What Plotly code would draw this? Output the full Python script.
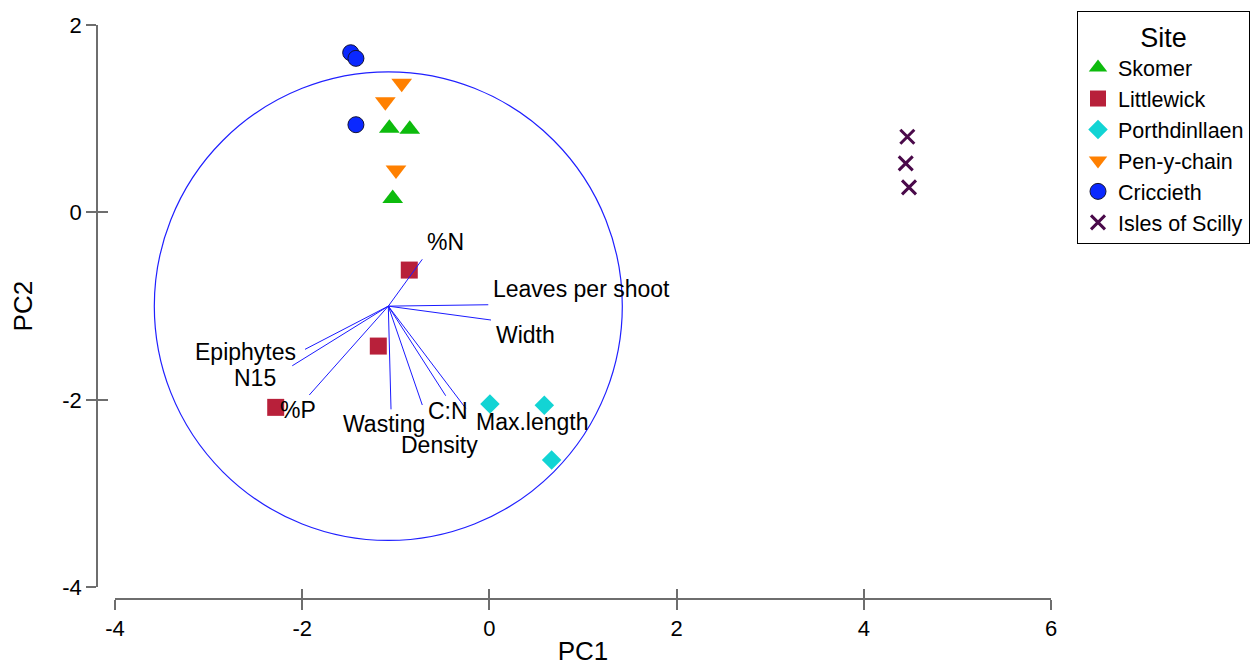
import plotly.graph_objects as go

# ---- Site scores (PC1, PC2) ----
skomer_pc1 = [-1.069, -0.851, -1.033]
skomer_pc2 = [0.897, 0.887, 0.150]

littlewick_pc1 = [-0.856, -1.187, -2.283]
littlewick_pc2 = [-0.615, -1.426, -2.080]

porthdinllaen_pc1 = [0.006, 0.587, 0.665]
porthdinllaen_pc2 = [-2.044, -2.058, -2.642]

penychain_pc1 = [-0.937, -1.112, -0.998]
penychain_pc2 = [1.378, 1.181, 0.452]

criccieth_pc1 = [-1.482, -1.426, -1.426]
criccieth_pc2 = [1.704, 1.644, 0.936]

scilly_pc1 = [4.465, 4.448, 4.483]
scilly_pc2 = [0.808, 0.524, 0.268]

# ---- Variable loadings (arrow tips) and the origin they start from ----
var_names = ["%N", "Leaves per shoot", "Width", "Epiphytes", "N15",
             "%P", "Wasting", "Density", "C:N", "Max.length"]
var_pc1 = [-0.717, -0.012, 0.017, -1.970, -2.106,
           -1.924, -1.051, -0.717, -0.467, -0.253]
var_pc2 = [-0.500, -0.985, -1.148, -1.461, -1.636,
           -1.948, -2.101, -2.055, -1.956, -2.090]
origin_pc1 = -1.08
origin_pc2 = -1.00
circle_radius = 2.5

# ---- Axis ticks ----
x_ticks = [-4, -2, 0, 2, 4, 6]
x_tick_text = ["-4", "-2", "0", "2", "4", "6"]
y_ticks = [-4, -2, 0, 2]
y_tick_text = ["-4", "-2", "0", "2"]

FONT = "Liberation Sans, Arial, sans-serif"
AXIS_GREY = "#6e6e6e"

fig = go.Figure()

site_styles = [
    ("Skomer", skomer_pc1, skomer_pc2,
     dict(symbol="triangle-up", size=18, color="#0dbb0d")),
    ("Littlewick", littlewick_pc1, littlewick_pc2,
     dict(symbol="square", size=17, color="#b8203a")),
    ("Porthdinllaen", porthdinllaen_pc1, porthdinllaen_pc2,
     dict(symbol="diamond", size=15, color="#12d4d4")),
    ("Pen-y-chain", penychain_pc1, penychain_pc2,
     dict(symbol="triangle-down", size=18, color="#ff8000")),
    ("Criccieth", criccieth_pc1, criccieth_pc2,
     dict(symbol="circle", size=16, color="#0a28ff",
          line=dict(color="#111133", width=1))),
    ("Isles of Scilly", scilly_pc1, scilly_pc2,
     dict(symbol="x-thin", size=14, color="#4a0a4a",
          line=dict(color="#4a0a4a", width=3))),
]
for name, xs, ys, marker in site_styles:
    fig.add_trace(go.Scatter(x=xs, y=ys, mode="markers", name=name,
                             marker=marker))

# loading arrows, on the overlaid axes so they sit above the site markers
seg_x, seg_y = [], []
for vx, vy in zip(var_pc1, var_pc2):
    seg_x += [origin_pc1, vx, None]
    seg_y += [origin_pc2, vy, None]
fig.add_trace(go.Scatter(x=seg_x, y=seg_y, mode="lines", xaxis="x2", yaxis="y2",
                         line=dict(color="#1a1aff", width=1),
                         showlegend=False, hoverinfo="skip"))

# correlation circle
fig.add_shape(type="circle", xref="x", yref="y",
              x0=origin_pc1 - circle_radius, x1=origin_pc1 + circle_radius,
              y0=origin_pc2 - circle_radius, y1=origin_pc2 + circle_radius,
              line=dict(color="#2020ff", width=1.2), layer="below")

# label placement (pixel offsets from each arrow tip)
label_shift = {
    "%N": (23, 17), "Leaves per shoot": (93, 16), "Width": (35, -15),
    "Epiphytes": (-60, -3), "N15": (-37, -12), "%P": (-11, -15),
    "Wasting": (-7, -15), "Density": (17, -40), "C:N": (2, -15),
    "Max.length": (67, -14),
}
for name, vx, vy in zip(var_names, var_pc1, var_pc2):
    dx, dy = label_shift[name]
    fig.add_annotation(x=vx, y=vy, text=name, showarrow=False,
                       xanchor="center", yanchor="middle",
                       xshift=dx, yshift=dy,
                       font=dict(family=FONT, size=23, color="black"))

W, H = 1259, 666
ml, mr, mt, mb = 97, 1259 - 1051, 25, 67
pw, ph = W - ml - mr, H - mt - mb

axis_common = dict(showgrid=False, zeroline=False, anchor="free", position=0,
                   tickcolor=AXIS_GREY, tickwidth=1.5, ticklen=10,
                   automargin=False)

fig.update_layout(
    width=W, height=H,
    margin=dict(l=ml, r=mr, t=mt, b=mb, pad=0, autoexpand=False),
    paper_bgcolor="white", plot_bgcolor="white",
    font=dict(family=FONT, size=22, color="black"),
    xaxis=dict(range=[-4, 6], domain=[18 / pw, 1], tickvals=x_ticks,
               ticktext=x_tick_text, ticks="outside", showline=True,
               linecolor=AXIS_GREY, linewidth=1.5,
               title=dict(text="PC1", standoff=18),
               tickfont=dict(size=22), **axis_common),
    xaxis2=dict(range=[-4, 6], overlaying="x", tickvals=x_ticks,
                ticks="inside", showticklabels=False, showline=False,
                **axis_common),
    yaxis=dict(range=[-4, 2], domain=[11.7 / ph, 1], tickvals=y_ticks,
               ticktext=y_tick_text, ticks="outside", showline=True,
               linecolor=AXIS_GREY, linewidth=1.5,
               title=dict(text="PC2", standoff=21),
               tickfont=dict(size=22), **axis_common),
    yaxis2=dict(range=[-4, 2], overlaying="y", tickvals=y_ticks,
                ticks="inside", showticklabels=False, showline=False,
                **axis_common),
    legend=dict(xref="container", yref="container",
                x=1077 / W, y=1 - 11 / H, xanchor="left", yanchor="top",
                bordercolor="black", borderwidth=1, bgcolor="white",
                font=dict(family=FONT, size=21.5, color="black"),
                title=dict(text="Site", side="top center",
                           font=dict(family=FONT, size=27))),
    showlegend=True,
)

fig.write_html("out.html")
